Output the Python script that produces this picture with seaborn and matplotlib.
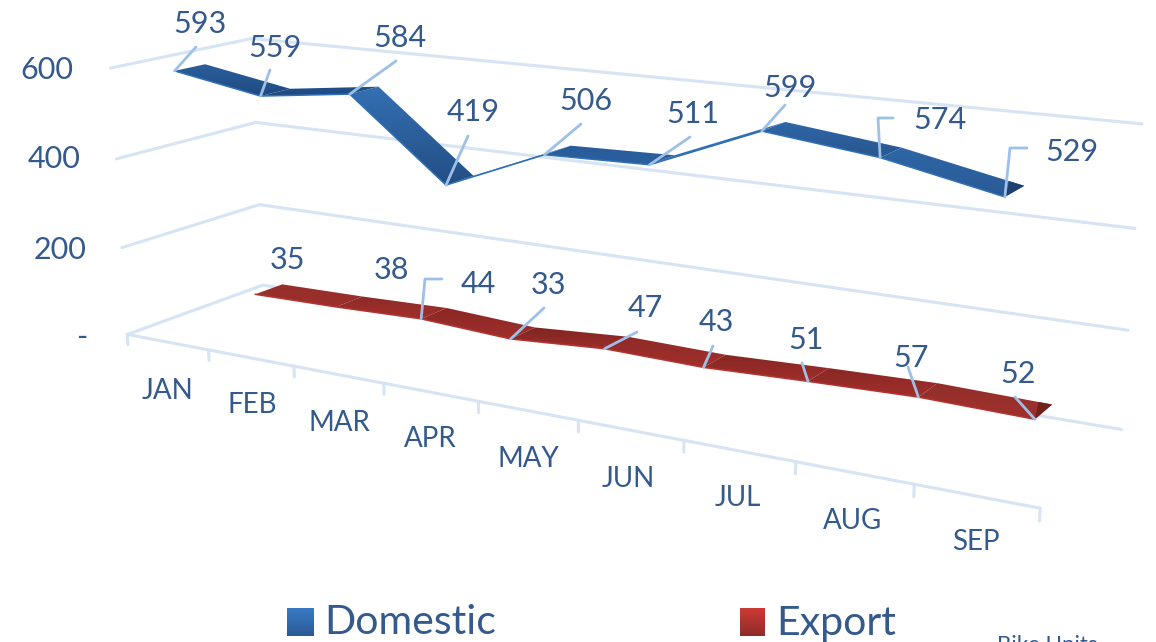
import numpy as np
import pandas as pd
import seaborn as sns
import matplotlib
matplotlib.use("Agg")
import matplotlib.pyplot as plt
from matplotlib.colors import LinearSegmentedColormap
from matplotlib.patches import Polygon

# data
months = ["JAN", "FEB", "MAR", "APR", "MAY", "JUN", "JUL", "AUG", "SEP"]
domestic = [593, 559, 584, 419, 506, 511, 599, 574, 529]
export = [35, 38, 44, 33, 47, 43, 51, 57, 52]
y_ticks = [0, 200, 400, 600]
y_tick_labels = ["-", "200", "400", "600"]

# pixel layout of the labels
month_xy = [(167, 391), (252, 405), (339, 423), (430, 439), (528, 459), (628, 479), (738, 498), (853, 521), (976, 542)]
tick_xy = [(82, 337), (60, 250), (54, 159), (47, 70)]
dom_label_xy = [(200, 24), (275, 48), (400, 38), (473, 112), (586, 101), (693, 114), (790, 88), (940, 120), (1072, 152)]
exp_label_xy = [(287, 260), (391, 270), (478, 284), (548, 285), (645, 308), (716, 322), (806, 340), (911, 358), (1018, 374)]
# leader lines after the data point, None = no leader
dom_leader = [[(196, 47)], [(270, 70)], [(396, 61)], [(468, 136)], [(581, 124)], [(690, 137)], [(785, 105)],
              [(878, 118), (893, 118)], [(1010, 148), (1027, 148)]]
exp_leader = [None, None, [(425, 279), (442, 279)], [(544, 308)], [(637, 332)], [(713, 346)], [(802, 363)],
              [(908, 367)], [(1015, 397)]]

# shades per ribbon segment (top, bottom)
dom_shades = [("#2b5f9e", "#1f4a80"), ("#22508a", "#1f4a80"), ("#3470b2", "#234e84"), ("#2f6fb8", "#2f6fb8"),
              ("#2a5c9a", "#2a5f9f"), ("#2f6fb8", "#2f6fb8"), ("#2f66a6", "#28568f"), ("#2f66a6", "#2a5a95")]
exp_shades = [("#95302c", "#9c2e2b"), ("#8f2b28", "#a02f2b"), ("#8a2825", "#a02f2b"), ("#7f2522", "#9c2e2b"),
              ("#8f2b28", "#a02f2b"), ("#852623", "#a02f2b"), ("#8a2825", "#a02f2b"), ("#92302c", "#a02f2b")]

# frame corners: (category pos, depth, value) -> pixel, used to fit the 3D view
calib = [
    ((0, 0, 0), (128, 333)), ((9, 0, 0), (1040, 510)), ((0, 1, 0), (262, 285)), ((9, 1, 0), (1122, 430)),
    ((0, 0, 200), (120, 248)), ((0, 0, 400), (115, 158)), ((0, 0, 600), (110, 68)),
    ((0, 1, 200), (258, 205)), ((0, 1, 400), (255, 123)), ((0, 1, 600), (255, 40)),
    ((9, 1, 200), (1128, 328)), ((9, 1, 400), (1135, 228)), ((9, 1, 600), (1142, 123)),
    ((1, 0, 0), (210, 349)), ((2, 0, 0), (296, 366)), ((3, 0, 0), (385, 383)), ((4, 0, 0), (477, 401)),
    ((5, 0, 0), (580, 421)), ((6, 0, 0), (685, 441)), ((7, 0, 0), (795, 462)), ((8, 0, 0), (912, 485)),
]


def fit_view(pairs):
    rows = []
    for (u, w, v), (px, py) in pairs:
        X = [u / 9, w, v / 600, 1]
        rows.append(X + [0, 0, 0, 0] + [-px * c for c in X])
        rows.append([0, 0, 0, 0] + X + [-py * c for c in X])
    _, _, vt = np.linalg.svd(np.array(rows, dtype=float))
    return vt[-1].reshape(3, 4)


P = fit_view(calib)


def project(u, w, v):
    a = P @ np.array([u / 9, w, v / 600, 1])
    return a[0] / a[2], a[1] / a[2]


def grad_poly(ax, pts, top, bottom, z=3):
    poly = Polygon(pts, closed=True, fc="none", ec="none")
    ax.add_patch(poly)
    cmap = LinearSegmentedColormap.from_list("g", [top, bottom])
    xs, ys = zip(*pts)
    im = ax.imshow(np.linspace(0, 1, 64)[:, None], cmap=cmap, aspect="auto", zorder=z,
                   extent=(min(xs), max(xs), max(ys), min(ys)))
    im.set_clip_path(poly)


def ribbon(ax, values, w0, w1, shades, edge, cap):
    front = [project(i + 0.5, w0, val) for i, val in enumerate(values)]
    back = [project(i + 0.5, w1, val) for i, val in enumerate(values)]
    for i in range(len(values) - 1):
        pts = [front[i], front[i + 1], back[i + 1], back[i]]
        grad_poly(ax, pts, shades[i][0], shades[i][1])
    fx, fy = zip(*front)
    ax.plot(fx, fy, color=edge, lw=1.1, zorder=4, solid_joinstyle="round")
    # dark end of the ribbon
    bx = back[-2][0] + 0.88 * (back[-1][0] - back[-2][0])
    by = back[-2][1] + 0.88 * (back[-1][1] - back[-2][1])
    ax.add_patch(Polygon([front[-1], back[-1], (bx, by)], closed=True, fc=cap, ec="none", zorder=4))
    return front


sns.set_theme(style="white")
plt.rcParams["font.family"] = ["Lato", "DejaVu Sans"]
text_color = "#34598c"

fig, ax = plt.subplots(figsize=(11.56, 6.42), dpi=100)
ax.set_position([0, 0, 1, 1])

# walls and floor lines
rows = []
for val in y_ticks:
    for n, (u, w) in enumerate([(0, 0), (0, 1), (9, 1)]):
        px, py = project(u, w, val)
        rows.append({"line": f"g{val}", "n": n, "px": px, "py": py})
for n, u in enumerate([0, 9]):
    px, py = project(u, 0, 0)
    rows.append({"line": "front", "n": n, "px": px, "py": py})
for k in range(len(months) + 1):
    for n, v in enumerate([0, -24]):
        px, py = project(k, 0, v)
        rows.append({"line": f"t{k}", "n": n, "px": px, "py": py})
grid = pd.DataFrame(rows)
sns.lineplot(data=grid, x="px", y="py", units="line", estimator=None, sort=False,
             color="#d6e4f4", linewidth=2.2, legend=False, ax=ax, zorder=1)

dom_front = ribbon(ax, domestic, 0.15, 0.36, dom_shades, "#2f6fb8", "#1f3f6e")
exp_front = ribbon(ax, export, 0.64, 0.85, exp_shades, "#b5342f", "#6f211e")

# leader lines
rows = []
for name, anchors, leaders in [("d", dom_front, dom_leader), ("e", exp_front, exp_leader)]:
    for i, tail in enumerate(leaders):
        if tail is None:
            continue
        for n, (px, py) in enumerate([anchors[i]] + tail):
            rows.append({"line": f"{name}{i}", "n": n, "px": px, "py": py})
sns.lineplot(data=pd.DataFrame(rows), x="px", y="py", units="line", estimator=None, sort=False,
             color="#9dc0e8", linewidth=2, legend=False, ax=ax, zorder=5)

for vals, spots in [(domestic, dom_label_xy), (export, exp_label_xy)]:
    for val, (px, py) in zip(vals, spots):
        ax.text(px, py, str(val), color=text_color, fontsize=22, ha="center", va="center", zorder=6)
for lab, (px, py) in zip(months, month_xy):
    ax.text(px, py, lab, color=text_color, fontsize=20, ha="center", va="center")
for lab, (px, py) in zip(y_tick_labels, tick_xy):
    ax.text(px, py, lab, color=text_color, fontsize=22, ha="center", va="center")

# legend
grad_poly(ax, [(287, 608), (314, 608), (314, 636), (287, 636)], "#3a7ac4", "#2a5a95")
grad_poly(ax, [(740, 608), (765, 608), (765, 636), (740, 636)], "#cc3b35", "#8f2b28")
ax.text(324, 623, "Domestic", color=text_color, fontsize=29.5, ha="left", va="center")
ax.text(776, 623, "Export", color=text_color, fontsize=29.5, ha="left", va="center")
ax.text(997, 635, "Bike Units", color=text_color, fontsize=16, ha="left", va="top")

ax.set_xlim(0, 1156)
ax.set_ylim(642, 0)
ax.axis("off")

fig.savefig("out.png", dpi=100)
